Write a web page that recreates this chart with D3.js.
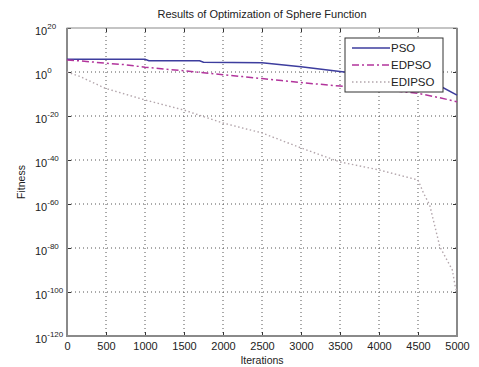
<!DOCTYPE html>
<html>
<head>
<meta charset="utf-8">
<script src="https://cdn.jsdelivr.net/npm/d3@7"></script>
<style>
  body { margin: 0; background: #fff; }
  svg text { font-family: "Liberation Sans", Arial, sans-serif; fill: #222; }
</style>
</head>
<body>
<div id="chart"></div>
<script>
// iterations, fitness as powers of ten
const psoIter = [0, 1000, 1050, 1700, 1750, 2500, 3000, 3500, 4000, 4500, 4800, 5000];
const psoExp = [5.8, 5.8, 5.1, 5.1, 4.4, 4.2, 2.4, 0.2, -1.8, -4.1, -6.7, -10.5];

const edpsoIter = [0, 250, 500, 750, 1000, 1250, 1500, 1750, 2000, 2250, 2500, 2750, 3000, 3250, 3500, 3750, 4000, 4250, 4500, 4750, 5000];
const edpsoExp = [5.5, 4.8, 4.0, 3.3, 2.2, 1.3, 0.6, -0.3, -1.2, -2.1, -3.0, -3.9, -4.8, -5.6, -6.4, -7.2, -8.0, -8.8, -9.7, -11.5, -13.5];

const edipsoIter = [0, 170, 490, 1000, 1500, 2000, 2500, 3000, 3500, 4000, 4500, 4570, 4650, 4780, 4940, 4980, 5000];
const edipsoExp = [0, -2.1, -7.4, -12.7, -17.3, -23.2, -27.7, -34.5, -40.9, -44.5, -49.1, -55, -60.5, -79.4, -90, -98, -100];

const xTicks = [0, 500, 1000, 1500, 2000, 2500, 3000, 3500, 4000, 4500, 5000];
const yTickExp = [20, 0, -20, -40, -60, -80, -100, -120];

const seriesNames = ['PSO', 'EDPSO', 'EDIPSO'];
const seriesColors = ['#3d3d9e', '#b2359c', '#b3a6ac'];
const seriesDash = [null, '7,3,2,3', '1.5,2.5'];

const W = 479, H = 367;
const margin = {top: 28, right: 22, bottom: 31, left: 67};
const width = W - margin.left - margin.right;
const height = H - margin.top - margin.bottom;

const svg = d3.select('#chart').append('svg')
    .attr('width', W)
    .attr('height', H);

const chart = svg.append('g')
    .attr('transform', `translate(${margin.left},${margin.top})`);

const xScale = d3.scaleLinear().domain([0, 5000]).range([0, width]);
const yScale = d3.scaleLog().domain([1e-120, 1e20]).range([height, 0]);

const yTicks = yTickExp.map(e => Math.pow(10, e));

// dotted grid
chart.append('g').attr('class', 'grid')
    .selectAll('line')
    .data(xTicks.slice(1, -1))
    .join('line')
    .attr('x1', d => xScale(d)).attr('x2', d => xScale(d))
    .attr('y1', 0).attr('y2', height)
    .attr('stroke', '#555').attr('stroke-width', 1)
    .attr('stroke-dasharray', '1,3');

chart.append('g').attr('class', 'grid')
    .selectAll('line')
    .data(yTicks.slice(1, -1))
    .join('line')
    .attr('y1', d => yScale(d)).attr('y2', d => yScale(d))
    .attr('x1', 0).attr('x2', width)
    .attr('stroke', '#555').attr('stroke-width', 1)
    .attr('stroke-dasharray', '1,3');

// axes
const xAxis = d3.axisBottom(xScale).tickValues(xTicks).tickSize(-4).tickSizeOuter(0)
    .tickPadding(6).tickFormat(d3.format('d'));
const yAxis = d3.axisLeft(yScale).tickValues(yTicks).tickSize(-4).tickSizeOuter(0).tickFormat('');

const xAxisG = chart.append('g').attr('transform', `translate(0,${height})`).call(xAxis);
xAxisG.select('.domain').remove();
xAxisG.selectAll('.tick line').attr('stroke', '#333');
xAxisG.selectAll('.tick text').attr('font-size', 11).attr('fill', '#222');

const xTopG = chart.append('g').call(d3.axisTop(xScale).tickValues(xTicks).tickSize(-4).tickFormat(''));
xTopG.select('.domain').remove();
xTopG.selectAll('.tick line').attr('stroke', '#333');

const yAxisG = chart.append('g').call(yAxis);
yAxisG.select('.domain').remove();
yAxisG.selectAll('.tick line').attr('stroke', '#333');

const yRightG = chart.append('g').attr('transform', `translate(${width},0)`)
    .call(d3.axisRight(yScale).tickValues(yTicks).tickSize(-4).tickFormat(''));
yRightG.select('.domain').remove();
yRightG.selectAll('.tick line').attr('stroke', '#333');

// 10^n labels
const yLab = yAxisG.selectAll('.tick').append('text')
    .attr('x', -32)
    .attr('y', 6)
    .attr('text-anchor', 'start')
    .attr('font-size', 11)
    .attr('fill', '#222');
yLab.append('tspan').text('10');
yLab.append('tspan')
    .attr('dy', -6)
    .attr('font-size', 8)
    .text((d, i) => yTickExp[i]);

// frame
chart.append('rect')
    .attr('width', width).attr('height', height)
    .attr('fill', 'none')
    .attr('stroke', '#8a8a8a').attr('stroke-width', 1);
chart.append('path')
    .attr('d', `M0,0V${height}H${width}V0`)
    .attr('fill', 'none')
    .attr('stroke', '#8a8a8a').attr('stroke-width', 2);

// series
const line = d3.line()
    .x(d => xScale(d[0]))
    .y(d => yScale(Math.pow(10, d[1])));

const series = [
    d3.zip(psoIter, psoExp),
    d3.zip(edpsoIter, edpsoExp),
    d3.zip(edipsoIter, edipsoExp)
];

series.forEach((s, i) => {
    chart.append('path')
        .datum(s)
        .attr('d', line)
        .attr('fill', 'none')
        .attr('stroke', seriesColors[i])
        .attr('stroke-width', i === 2 ? 1.4 : 1.5)
        .attr('stroke-dasharray', seriesDash[i]);
});

// legend
const legend = svg.append('g').attr('transform', 'translate(345,38)');
legend.append('rect')
    .attr('width', 98).attr('height', 54)
    .attr('fill', '#fff')
    .attr('stroke', '#333').attr('stroke-width', 1);
seriesNames.forEach((name, i) => {
    const y = 10 + i * 17;
    legend.append('line')
        .attr('x1', 7).attr('x2', 45)
        .attr('y1', y).attr('y2', y)
        .attr('stroke', seriesColors[i])
        .attr('stroke-width', 1.5)
        .attr('stroke-dasharray', seriesDash[i]);
    legend.append('text')
        .attr('x', 46).attr('y', y + 4)
        .attr('font-size', 11.5)
        .text(name);
});

// titles
svg.append('text')
    .attr('x', margin.left + width / 2).attr('y', 18)
    .attr('text-anchor', 'middle')
    .attr('font-size', 11)
    .text('Results of Optimization of Sphere Function');

svg.append('text')
    .attr('x', margin.left + width / 2).attr('y', 364)
    .attr('text-anchor', 'middle')
    .attr('font-size', 10.5)
    .text('Iterations');

svg.append('text')
    .attr('transform', 'translate(25,182) rotate(-90)')
    .attr('text-anchor', 'middle')
    .attr('font-size', 10.5)
    .text('Fitness');
</script>
</body>
</html>
